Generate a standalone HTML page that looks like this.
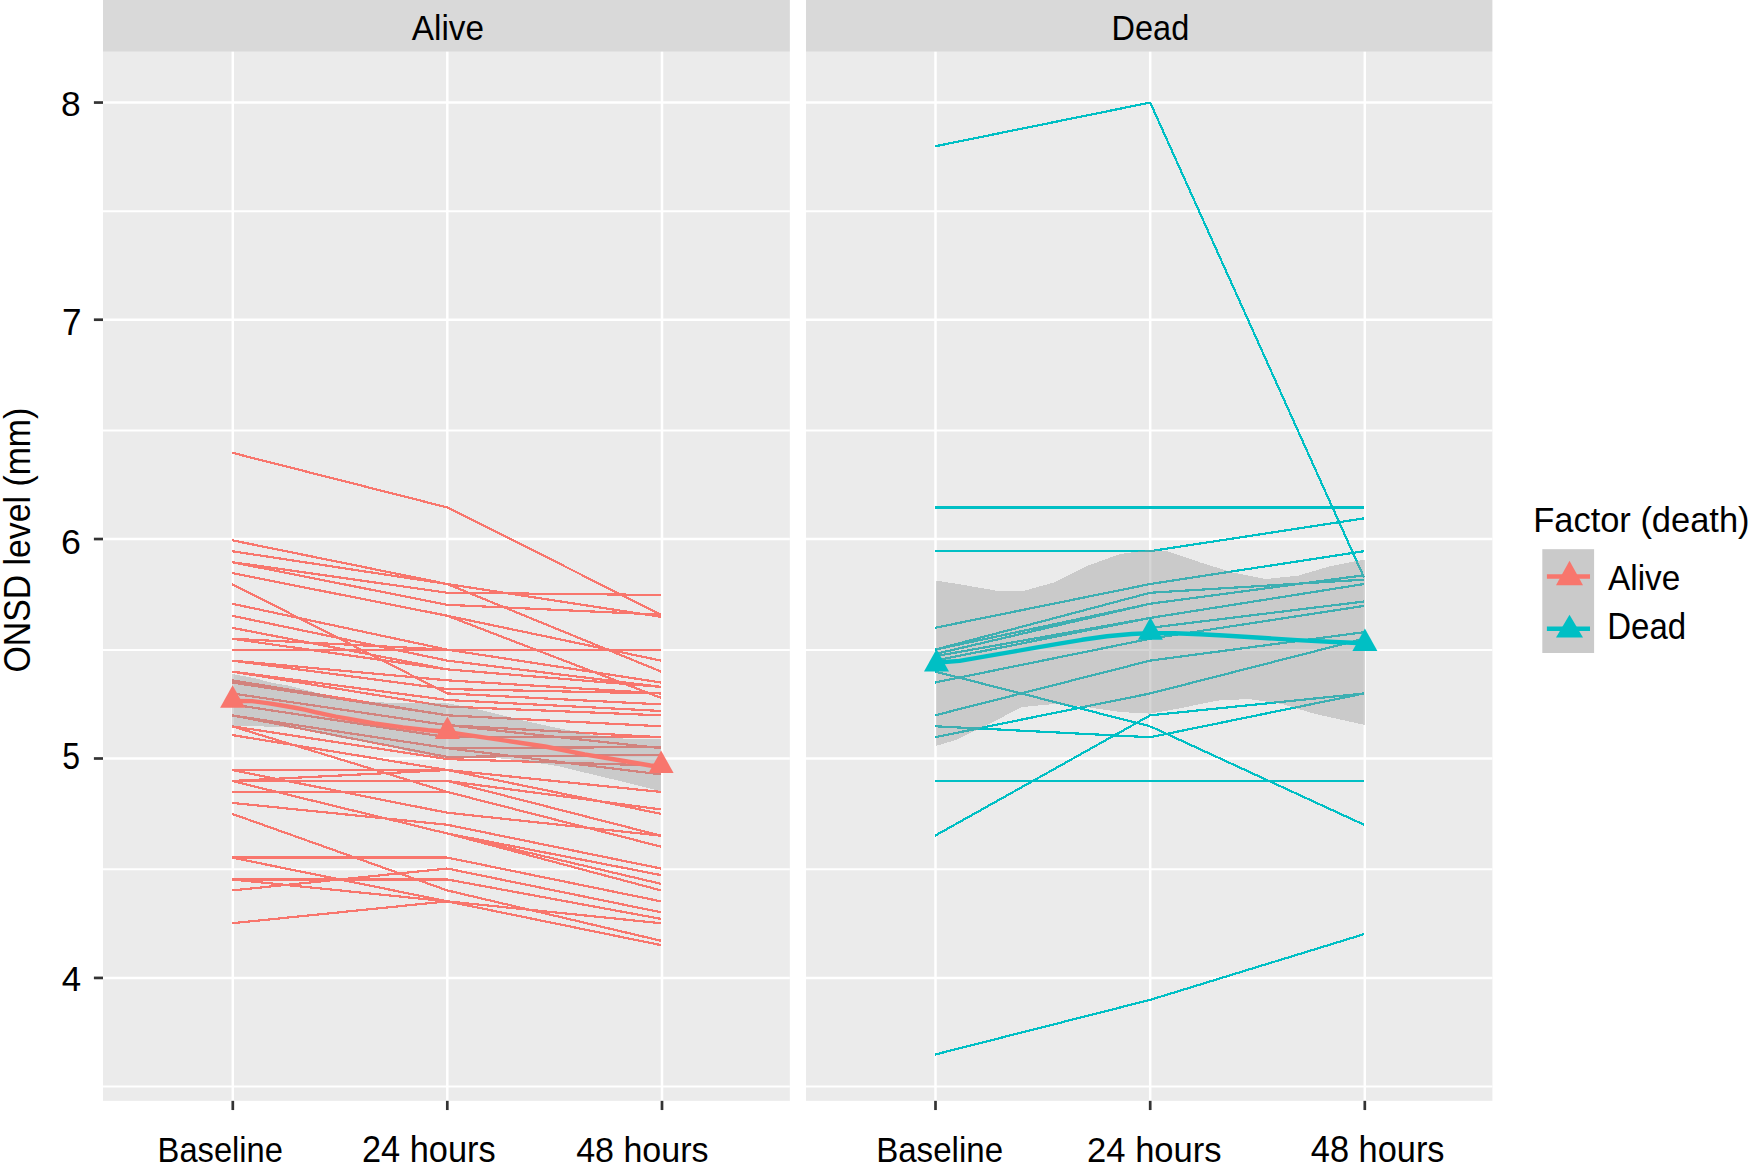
<!DOCTYPE html>
<html><head><meta charset="utf-8"><title>ONSD level</title>
<style>html,body{margin:0;padding:0;background:#fff;overflow:hidden}svg{display:block}</style></head>
<body><svg width="1750" height="1171" viewBox="0 0 1750 1171">
<rect x="0" y="0" width="1750" height="1171" fill="#FFFFFF"/>
<rect x="103.0" y="51.7" width="686.85" height="1049.15" fill="#EBEBEB"/>
<rect x="103.0" y="0" width="686.85" height="51.7" fill="#D9D9D9"/>
<line x1="103.0" x2="789.85" y1="211.20" y2="211.20" stroke="#FFFFFF" stroke-width="2.0"/>
<line x1="103.0" x2="789.85" y1="430.45" y2="430.45" stroke="#FFFFFF" stroke-width="2.0"/>
<line x1="103.0" x2="789.85" y1="650.00" y2="650.00" stroke="#FFFFFF" stroke-width="2.0"/>
<line x1="103.0" x2="789.85" y1="869.30" y2="869.30" stroke="#FFFFFF" stroke-width="2.0"/>
<line x1="103.0" x2="789.85" y1="1086.60" y2="1086.60" stroke="#FFFFFF" stroke-width="2.0"/>
<line x1="103.0" x2="789.85" y1="102.55" y2="102.55" stroke="#FFFFFF" stroke-width="2.6"/>
<line x1="103.0" x2="789.85" y1="319.80" y2="319.80" stroke="#FFFFFF" stroke-width="2.6"/>
<line x1="103.0" x2="789.85" y1="539.03" y2="539.03" stroke="#FFFFFF" stroke-width="2.6"/>
<line x1="103.0" x2="789.85" y1="758.50" y2="758.50" stroke="#FFFFFF" stroke-width="2.6"/>
<line x1="103.0" x2="789.85" y1="977.93" y2="977.93" stroke="#FFFFFF" stroke-width="2.6"/>
<line x1="232.80" x2="232.80" y1="51.7" y2="1100.85" stroke="#FFFFFF" stroke-width="2.5"/>
<line x1="447.30" x2="447.30" y1="51.7" y2="1100.85" stroke="#FFFFFF" stroke-width="2.5"/>
<line x1="662.00" x2="662.00" y1="51.7" y2="1100.85" stroke="#FFFFFF" stroke-width="2.5"/>
<rect x="806.0" y="51.7" width="686.40" height="1049.15" fill="#EBEBEB"/>
<rect x="806.0" y="0" width="686.40" height="51.7" fill="#D9D9D9"/>
<line x1="806.0" x2="1492.4" y1="211.20" y2="211.20" stroke="#FFFFFF" stroke-width="2.0"/>
<line x1="806.0" x2="1492.4" y1="430.45" y2="430.45" stroke="#FFFFFF" stroke-width="2.0"/>
<line x1="806.0" x2="1492.4" y1="650.00" y2="650.00" stroke="#FFFFFF" stroke-width="2.0"/>
<line x1="806.0" x2="1492.4" y1="869.30" y2="869.30" stroke="#FFFFFF" stroke-width="2.0"/>
<line x1="806.0" x2="1492.4" y1="1086.60" y2="1086.60" stroke="#FFFFFF" stroke-width="2.0"/>
<line x1="806.0" x2="1492.4" y1="102.55" y2="102.55" stroke="#FFFFFF" stroke-width="2.6"/>
<line x1="806.0" x2="1492.4" y1="319.80" y2="319.80" stroke="#FFFFFF" stroke-width="2.6"/>
<line x1="806.0" x2="1492.4" y1="539.03" y2="539.03" stroke="#FFFFFF" stroke-width="2.6"/>
<line x1="806.0" x2="1492.4" y1="758.50" y2="758.50" stroke="#FFFFFF" stroke-width="2.6"/>
<line x1="806.0" x2="1492.4" y1="977.93" y2="977.93" stroke="#FFFFFF" stroke-width="2.6"/>
<line x1="935.50" x2="935.50" y1="51.7" y2="1100.85" stroke="#FFFFFF" stroke-width="2.5"/>
<line x1="1150.20" x2="1150.20" y1="51.7" y2="1100.85" stroke="#FFFFFF" stroke-width="2.5"/>
<line x1="1364.80" x2="1364.80" y1="51.7" y2="1100.85" stroke="#FFFFFF" stroke-width="2.5"/>
<g shape-rendering="crispEdges">
<line x1="232.00" y1="452.71" x2="447.30" y2="507.42" stroke="#F8766D" stroke-width="2.2"/>
<line x1="232.00" y1="540.25" x2="447.30" y2="584.02" stroke="#F8766D" stroke-width="2.2"/>
<line x1="232.00" y1="551.19" x2="447.30" y2="584.02" stroke="#F8766D" stroke-width="2.2"/>
<line x1="232.00" y1="562.13" x2="447.30" y2="592.77" stroke="#F8766D" stroke-width="2.2"/>
<line x1="232.00" y1="562.13" x2="447.30" y2="604.81" stroke="#F8766D" stroke-width="2.2"/>
<line x1="232.00" y1="573.08" x2="447.30" y2="615.75" stroke="#F8766D" stroke-width="2.2"/>
<line x1="232.00" y1="584.02" x2="447.30" y2="693.44" stroke="#F8766D" stroke-width="2.2"/>
<line x1="232.00" y1="603.72" x2="447.30" y2="649.67" stroke="#F8766D" stroke-width="2.2"/>
<line x1="232.00" y1="615.75" x2="447.30" y2="660.62" stroke="#F8766D" stroke-width="2.2"/>
<line x1="232.00" y1="627.79" x2="447.30" y2="669.37" stroke="#F8766D" stroke-width="2.2"/>
<line x1="232.00" y1="638.73" x2="447.30" y2="649.67" stroke="#F8766D" stroke-width="2.2"/>
<line x1="232.00" y1="638.73" x2="447.30" y2="669.37" stroke="#F8766D" stroke-width="2.2"/>
<line x1="232.00" y1="649.67" x2="447.30" y2="649.67" stroke="#F8766D" stroke-width="2.2"/>
<line x1="232.00" y1="660.62" x2="447.30" y2="680.31" stroke="#F8766D" stroke-width="2.2"/>
<line x1="232.00" y1="660.62" x2="447.30" y2="689.07" stroke="#F8766D" stroke-width="2.2"/>
<line x1="232.00" y1="671.56" x2="447.30" y2="700.01" stroke="#F8766D" stroke-width="2.2"/>
<line x1="232.00" y1="671.56" x2="447.30" y2="706.58" stroke="#F8766D" stroke-width="2.2"/>
<line x1="232.00" y1="680.31" x2="447.30" y2="715.33" stroke="#F8766D" stroke-width="2.2"/>
<line x1="232.00" y1="682.50" x2="447.30" y2="715.33" stroke="#F8766D" stroke-width="2.2"/>
<line x1="232.00" y1="693.44" x2="447.30" y2="725.18" stroke="#F8766D" stroke-width="2.2"/>
<line x1="232.00" y1="704.39" x2="447.30" y2="737.22" stroke="#F8766D" stroke-width="2.2"/>
<line x1="232.00" y1="715.33" x2="447.30" y2="748.16" stroke="#F8766D" stroke-width="2.2"/>
<line x1="232.00" y1="715.33" x2="447.30" y2="756.91" stroke="#F8766D" stroke-width="2.2"/>
<line x1="232.00" y1="726.27" x2="447.30" y2="759.10" stroke="#F8766D" stroke-width="2.2"/>
<line x1="232.00" y1="726.27" x2="447.30" y2="791.93" stroke="#F8766D" stroke-width="2.2"/>
<line x1="232.00" y1="735.03" x2="447.30" y2="770.04" stroke="#F8766D" stroke-width="2.2"/>
<line x1="232.00" y1="770.04" x2="447.30" y2="770.04" stroke="#F8766D" stroke-width="2.2"/>
<line x1="232.00" y1="770.04" x2="447.30" y2="812.72" stroke="#F8766D" stroke-width="2.2"/>
<line x1="232.00" y1="780.98" x2="447.30" y2="770.04" stroke="#F8766D" stroke-width="2.2"/>
<line x1="232.00" y1="780.98" x2="447.30" y2="780.98" stroke="#F8766D" stroke-width="2.2"/>
<line x1="232.00" y1="780.98" x2="447.30" y2="833.51" stroke="#F8766D" stroke-width="2.2"/>
<line x1="232.00" y1="791.93" x2="447.30" y2="791.93" stroke="#F8766D" stroke-width="2.2"/>
<line x1="232.00" y1="802.87" x2="447.30" y2="824.75" stroke="#F8766D" stroke-width="2.2"/>
<line x1="232.00" y1="813.81" x2="447.30" y2="890.41" stroke="#F8766D" stroke-width="2.2"/>
<line x1="232.00" y1="857.58" x2="447.30" y2="857.58" stroke="#F8766D" stroke-width="2.2"/>
<line x1="232.00" y1="857.58" x2="447.30" y2="901.35" stroke="#F8766D" stroke-width="2.2"/>
<line x1="232.00" y1="879.47" x2="447.30" y2="879.47" stroke="#F8766D" stroke-width="2.2"/>
<line x1="232.00" y1="879.47" x2="447.30" y2="901.35" stroke="#F8766D" stroke-width="2.2"/>
<line x1="232.00" y1="890.41" x2="447.30" y2="868.52" stroke="#F8766D" stroke-width="2.2"/>
<line x1="232.00" y1="923.24" x2="447.30" y2="901.35" stroke="#F8766D" stroke-width="2.2"/>
<line x1="447.30" y1="507.42" x2="661.00" y2="614.66" stroke="#F8766D" stroke-width="2.2"/>
<line x1="447.30" y1="584.02" x2="661.00" y2="616.85" stroke="#F8766D" stroke-width="2.2"/>
<line x1="447.30" y1="592.77" x2="661.00" y2="594.96" stroke="#F8766D" stroke-width="2.2"/>
<line x1="447.30" y1="604.81" x2="661.00" y2="614.66" stroke="#F8766D" stroke-width="2.2"/>
<line x1="447.30" y1="584.02" x2="661.00" y2="671.56" stroke="#F8766D" stroke-width="2.2"/>
<line x1="447.30" y1="615.75" x2="661.00" y2="660.62" stroke="#F8766D" stroke-width="2.2"/>
<line x1="447.30" y1="615.75" x2="661.00" y2="697.82" stroke="#F8766D" stroke-width="2.2"/>
<line x1="447.30" y1="649.67" x2="661.00" y2="649.67" stroke="#F8766D" stroke-width="2.2"/>
<line x1="447.30" y1="649.67" x2="661.00" y2="682.50" stroke="#F8766D" stroke-width="2.2"/>
<line x1="447.30" y1="660.62" x2="661.00" y2="686.88" stroke="#F8766D" stroke-width="2.2"/>
<line x1="447.30" y1="669.37" x2="661.00" y2="686.88" stroke="#F8766D" stroke-width="2.2"/>
<line x1="447.30" y1="680.31" x2="661.00" y2="693.44" stroke="#F8766D" stroke-width="2.2"/>
<line x1="447.30" y1="689.07" x2="661.00" y2="693.44" stroke="#F8766D" stroke-width="2.2"/>
<line x1="447.30" y1="693.44" x2="661.00" y2="704.39" stroke="#F8766D" stroke-width="2.2"/>
<line x1="447.30" y1="700.01" x2="661.00" y2="710.95" stroke="#F8766D" stroke-width="2.2"/>
<line x1="447.30" y1="706.58" x2="661.00" y2="715.33" stroke="#F8766D" stroke-width="2.2"/>
<line x1="447.30" y1="715.33" x2="661.00" y2="726.27" stroke="#F8766D" stroke-width="2.2"/>
<line x1="447.30" y1="725.18" x2="661.00" y2="737.22" stroke="#F8766D" stroke-width="2.2"/>
<line x1="447.30" y1="737.22" x2="661.00" y2="737.22" stroke="#F8766D" stroke-width="2.2"/>
<line x1="447.30" y1="748.16" x2="661.00" y2="747.06" stroke="#F8766D" stroke-width="2.2"/>
<line x1="447.30" y1="756.91" x2="661.00" y2="754.72" stroke="#F8766D" stroke-width="2.2"/>
<line x1="447.30" y1="759.10" x2="661.00" y2="765.67" stroke="#F8766D" stroke-width="2.2"/>
<line x1="447.30" y1="748.16" x2="661.00" y2="774.42" stroke="#F8766D" stroke-width="2.2"/>
<line x1="447.30" y1="725.18" x2="661.00" y2="748.16" stroke="#F8766D" stroke-width="2.2"/>
<line x1="447.30" y1="770.04" x2="661.00" y2="791.93" stroke="#F8766D" stroke-width="2.2"/>
<line x1="447.30" y1="770.04" x2="661.00" y2="813.81" stroke="#F8766D" stroke-width="2.2"/>
<line x1="447.30" y1="780.98" x2="661.00" y2="809.44" stroke="#F8766D" stroke-width="2.2"/>
<line x1="447.30" y1="780.98" x2="661.00" y2="835.70" stroke="#F8766D" stroke-width="2.2"/>
<line x1="447.30" y1="791.93" x2="661.00" y2="846.64" stroke="#F8766D" stroke-width="2.2"/>
<line x1="447.30" y1="812.72" x2="661.00" y2="835.70" stroke="#F8766D" stroke-width="2.2"/>
<line x1="447.30" y1="824.75" x2="661.00" y2="868.52" stroke="#F8766D" stroke-width="2.2"/>
<line x1="447.30" y1="824.75" x2="661.00" y2="868.52" stroke="#F8766D" stroke-width="2.2"/>
<line x1="447.30" y1="833.51" x2="661.00" y2="875.09" stroke="#F8766D" stroke-width="2.2"/>
<line x1="447.30" y1="833.51" x2="661.00" y2="883.84" stroke="#F8766D" stroke-width="2.2"/>
<line x1="447.30" y1="833.51" x2="661.00" y2="890.41" stroke="#F8766D" stroke-width="2.2"/>
<line x1="447.30" y1="857.58" x2="661.00" y2="901.35" stroke="#F8766D" stroke-width="2.2"/>
<line x1="447.30" y1="868.52" x2="661.00" y2="912.29" stroke="#F8766D" stroke-width="2.2"/>
<line x1="447.30" y1="868.52" x2="661.00" y2="912.29" stroke="#F8766D" stroke-width="2.2"/>
<line x1="447.30" y1="879.47" x2="661.00" y2="918.86" stroke="#F8766D" stroke-width="2.2"/>
<line x1="447.30" y1="901.35" x2="661.00" y2="923.24" stroke="#F8766D" stroke-width="2.2"/>
<line x1="447.30" y1="890.41" x2="661.00" y2="940.75" stroke="#F8766D" stroke-width="2.2"/>
<line x1="447.30" y1="901.35" x2="661.00" y2="945.12" stroke="#F8766D" stroke-width="2.2"/>
<line x1="935.00" y1="146.32" x2="1150.20" y2="102.55" stroke="#00BFC4" stroke-width="2.2"/>
<line x1="935.00" y1="507.42" x2="1150.20" y2="507.42" stroke="#00BFC4" stroke-width="2.2"/>
<line x1="935.00" y1="551.19" x2="1150.20" y2="551.19" stroke="#00BFC4" stroke-width="2.2"/>
<line x1="935.00" y1="627.79" x2="1150.20" y2="584.02" stroke="#00BFC4" stroke-width="2.2"/>
<line x1="935.00" y1="649.67" x2="1150.20" y2="592.77" stroke="#00BFC4" stroke-width="2.2"/>
<line x1="935.00" y1="649.67" x2="1150.20" y2="603.72" stroke="#00BFC4" stroke-width="2.2"/>
<line x1="935.00" y1="654.05" x2="1150.20" y2="603.72" stroke="#00BFC4" stroke-width="2.2"/>
<line x1="935.00" y1="654.05" x2="1150.20" y2="603.72" stroke="#00BFC4" stroke-width="2.2"/>
<line x1="935.00" y1="656.24" x2="1150.20" y2="617.94" stroke="#00BFC4" stroke-width="2.2"/>
<line x1="935.00" y1="660.62" x2="1150.20" y2="617.94" stroke="#00BFC4" stroke-width="2.2"/>
<line x1="935.00" y1="682.50" x2="1150.20" y2="638.73" stroke="#00BFC4" stroke-width="2.2"/>
<line x1="935.00" y1="715.33" x2="1150.20" y2="660.62" stroke="#00BFC4" stroke-width="2.2"/>
<line x1="935.00" y1="671.56" x2="1150.20" y2="726.27" stroke="#00BFC4" stroke-width="2.2"/>
<line x1="935.00" y1="737.22" x2="1150.20" y2="693.44" stroke="#00BFC4" stroke-width="2.2"/>
<line x1="935.00" y1="726.27" x2="1150.20" y2="737.22" stroke="#00BFC4" stroke-width="2.2"/>
<line x1="935.00" y1="835.70" x2="1150.20" y2="715.33" stroke="#00BFC4" stroke-width="2.2"/>
<line x1="935.00" y1="780.98" x2="1150.20" y2="780.98" stroke="#00BFC4" stroke-width="2.2"/>
<line x1="935.00" y1="1054.55" x2="1150.20" y2="999.83" stroke="#00BFC4" stroke-width="2.2"/>
<line x1="1150.20" y1="102.55" x2="1364.00" y2="577.45" stroke="#00BFC4" stroke-width="2.2"/>
<line x1="1150.20" y1="507.42" x2="1364.00" y2="507.42" stroke="#00BFC4" stroke-width="2.2"/>
<line x1="1150.20" y1="551.19" x2="1364.00" y2="518.37" stroke="#00BFC4" stroke-width="2.2"/>
<line x1="1150.20" y1="584.02" x2="1364.00" y2="551.19" stroke="#00BFC4" stroke-width="2.2"/>
<line x1="1150.20" y1="592.77" x2="1364.00" y2="579.64" stroke="#00BFC4" stroke-width="2.2"/>
<line x1="1150.20" y1="603.72" x2="1364.00" y2="575.27" stroke="#00BFC4" stroke-width="2.2"/>
<line x1="1150.20" y1="617.94" x2="1364.00" y2="584.02" stroke="#00BFC4" stroke-width="2.2"/>
<line x1="1150.20" y1="627.79" x2="1364.00" y2="601.53" stroke="#00BFC4" stroke-width="2.2"/>
<line x1="1150.20" y1="638.73" x2="1364.00" y2="605.90" stroke="#00BFC4" stroke-width="2.2"/>
<line x1="1150.20" y1="660.62" x2="1364.00" y2="632.17" stroke="#00BFC4" stroke-width="2.2"/>
<line x1="1150.20" y1="693.44" x2="1364.00" y2="638.73" stroke="#00BFC4" stroke-width="2.2"/>
<line x1="1150.20" y1="715.33" x2="1364.00" y2="693.44" stroke="#00BFC4" stroke-width="2.2"/>
<line x1="1150.20" y1="737.22" x2="1364.00" y2="693.44" stroke="#00BFC4" stroke-width="2.2"/>
<line x1="1150.20" y1="726.27" x2="1364.00" y2="824.75" stroke="#00BFC4" stroke-width="2.2"/>
<line x1="1150.20" y1="780.98" x2="1364.00" y2="780.98" stroke="#00BFC4" stroke-width="2.2"/>
<line x1="1150.20" y1="999.83" x2="1364.00" y2="934.18" stroke="#00BFC4" stroke-width="2.2"/>
</g>
<polygon points="231.80,673.90 254.00,678.00 272.00,682.80 288.00,685.50 310.00,691.00 330.00,696.50 346.00,700.50 369.00,702.20 409.00,703.00 447.30,703.10 479.40,709.70 518.90,719.60 551.70,726.80 591.10,734.70 624.00,738.60 661.00,739.30 661.00,791.20 624.00,782.00 591.10,774.10 558.30,766.20 525.40,761.00 499.10,758.30 447.30,758.30 409.00,751.50 385.00,745.00 369.00,742.60 352.00,739.60 340.00,737.70 306.00,730.20 283.00,727.00 231.80,725.70" fill="#999999" fill-opacity="0.4" shape-rendering="crispEdges"/>
<polygon points="935.50,580.60 957.00,583.80 1000.00,591.30 1022.00,591.30 1055.00,582.20 1087.00,566.00 1120.00,554.00 1150.00,549.80 1168.00,551.40 1201.00,562.70 1233.00,572.50 1266.00,579.00 1298.00,575.70 1331.00,566.00 1364.80,559.50 1364.80,725.00 1314.00,713.60 1282.00,703.90 1249.00,699.00 1217.00,700.60 1178.00,708.70 1150.00,713.60 1120.00,712.00 1087.00,707.10 1055.00,703.90 1022.00,707.10 990.00,723.40 957.00,739.60 935.50,746.00" fill="#999999" fill-opacity="0.4" shape-rendering="crispEdges"/>
<polyline points="232.00,701.00 252.00,701.10 269.00,703.40 282.00,705.50 293.50,707.50 304.80,709.70 315.00,712.20 325.40,714.40 335.70,716.60 346.30,718.30 374.60,723.40 402.90,727.40 428.00,730.30 447.30,731.80 459.70,733.80 505.70,740.60 545.00,746.50 584.60,754.40 624.00,761.00 650.30,765.50 661.00,766.50" fill="none" stroke="#F8766D" stroke-width="4.4" stroke-linejoin="round"/>
<polyline points="935.00,662.80 959.60,660.90 984.00,656.60 1008.70,652.40 1033.00,648.20 1057.80,643.90 1082.00,639.80 1107.00,636.20 1131.60,634.00 1150.00,633.10 1174.60,633.20 1200.00,634.20 1223.70,635.50 1260.60,637.80 1297.40,640.10 1334.30,642.00 1364.00,643.30" fill="none" stroke="#00BFC4" stroke-width="4.4" stroke-linejoin="round"/>
<polygon points="232.60,685.13 245.10,707.73 220.10,707.73" fill="#F8766D"/>
<polygon points="447.40,716.43 459.90,739.03 434.90,739.03" fill="#F8766D"/>
<polygon points="661.10,750.43 673.60,773.03 648.60,773.03" fill="#F8766D"/>
<polygon points="936.50,648.93 949.00,671.53 924.00,671.53" fill="#00BFC4"/>
<polygon points="1150.40,617.23 1162.90,639.83 1137.90,639.83" fill="#00BFC4"/>
<polygon points="1364.90,628.43 1377.40,651.03 1352.40,651.03" fill="#00BFC4"/>
<line x1="93.9" x2="103" y1="102.55" y2="102.55" stroke="#333333" stroke-width="2.7"/>
<line x1="93.9" x2="103" y1="319.72" y2="319.72" stroke="#333333" stroke-width="2.7"/>
<line x1="93.9" x2="103" y1="539.03" y2="539.03" stroke="#333333" stroke-width="2.7"/>
<line x1="93.9" x2="103" y1="758.50" y2="758.50" stroke="#333333" stroke-width="2.7"/>
<line x1="93.9" x2="103" y1="977.93" y2="977.93" stroke="#333333" stroke-width="2.7"/>
<line x1="232.80" x2="232.80" y1="1100.85" y2="1110.05" stroke="#333333" stroke-width="2.7"/>
<line x1="447.30" x2="447.30" y1="1100.85" y2="1110.05" stroke="#333333" stroke-width="2.7"/>
<line x1="662.00" x2="662.00" y1="1100.85" y2="1110.05" stroke="#333333" stroke-width="2.7"/>
<line x1="935.50" x2="935.50" y1="1100.85" y2="1110.05" stroke="#333333" stroke-width="2.7"/>
<line x1="1150.20" x2="1150.20" y1="1100.85" y2="1110.05" stroke="#333333" stroke-width="2.7"/>
<line x1="1364.80" x2="1364.80" y1="1100.85" y2="1110.05" stroke="#333333" stroke-width="2.7"/>
<text transform="translate(411.80,39.60) scale(0.9250,1)" font-family="Liberation Sans" font-size="36" fill="#000000">Alive</text>
<text transform="translate(1111.59,39.60) scale(0.9025,1)" font-family="Liberation Sans" font-size="36" fill="#000000">Dead</text>
<text transform="translate(61.04,115.70) scale(0.9824,1)" font-family="Liberation Sans" font-size="36" fill="#000000">8</text>
<text transform="translate(61.95,334.50) scale(0.9750,1)" font-family="Liberation Sans" font-size="36" fill="#000000">7</text>
<text transform="translate(61.11,553.60) scale(0.9941,1)" font-family="Liberation Sans" font-size="36" fill="#000000">6</text>
<text transform="translate(62.22,769.40) scale(0.8882,1)" font-family="Liberation Sans" font-size="36" fill="#000000">5</text>
<text transform="translate(61.63,991.20) scale(0.9667,1)" font-family="Liberation Sans" font-size="36" fill="#000000">4</text>
<text transform="translate(157.58,1161.80) scale(0.9083,1)" font-family="Liberation Sans" font-size="36" fill="#000000">Baseline</text>
<text transform="translate(361.99,1161.80) scale(0.9540,1)" font-family="Liberation Sans" font-size="36" fill="#000000">24 hours</text>
<text transform="translate(576.15,1161.80) scale(0.9457,1)" font-family="Liberation Sans" font-size="36" fill="#000000">48 hours</text>
<text transform="translate(876.14,1161.80) scale(0.9195,1)" font-family="Liberation Sans" font-size="36" fill="#000000">Baseline</text>
<text transform="translate(1087.08,1161.80) scale(0.9606,1)" font-family="Liberation Sans" font-size="36" fill="#000000">24 hours</text>
<text transform="translate(1310.85,1161.80) scale(0.9543,1)" font-family="Liberation Sans" font-size="36" fill="#000000">48 hours</text>
<text transform="translate(29.6,672.48) rotate(-90) scale(0.9388,1)" font-family="Liberation Sans" font-size="36" fill="#000000">ONSD level (mm)</text>
<text transform="translate(1533.23,532.30) scale(0.9570,1)" font-family="Liberation Sans" font-size="36" fill="#000000">Factor (death)</text>
<rect x="1542.3" y="549.2" width="51.8" height="103.8" fill="#CACACA"/>
<line x1="1546.9" x2="1590" y1="576.6" y2="576.6" stroke="#F8766D" stroke-width="4.5"/>
<polygon points="1569.5,560.7 1583,585.3 1556,585.3" fill="#F8766D"/>
<line x1="1546.9" x2="1590" y1="628.8" y2="628.8" stroke="#00BFC4" stroke-width="4.5"/>
<polygon points="1569.5,614.8 1583,637.6 1556,637.6" fill="#00BFC4"/>
<text transform="translate(1608.10,589.60) scale(0.9250,1)" font-family="Liberation Sans" font-size="36" fill="#000000">Alive</text>
<text transform="translate(1607.25,639.10) scale(0.9160,1)" font-family="Liberation Sans" font-size="36" fill="#000000">Dead</text>
</svg></body></html>
